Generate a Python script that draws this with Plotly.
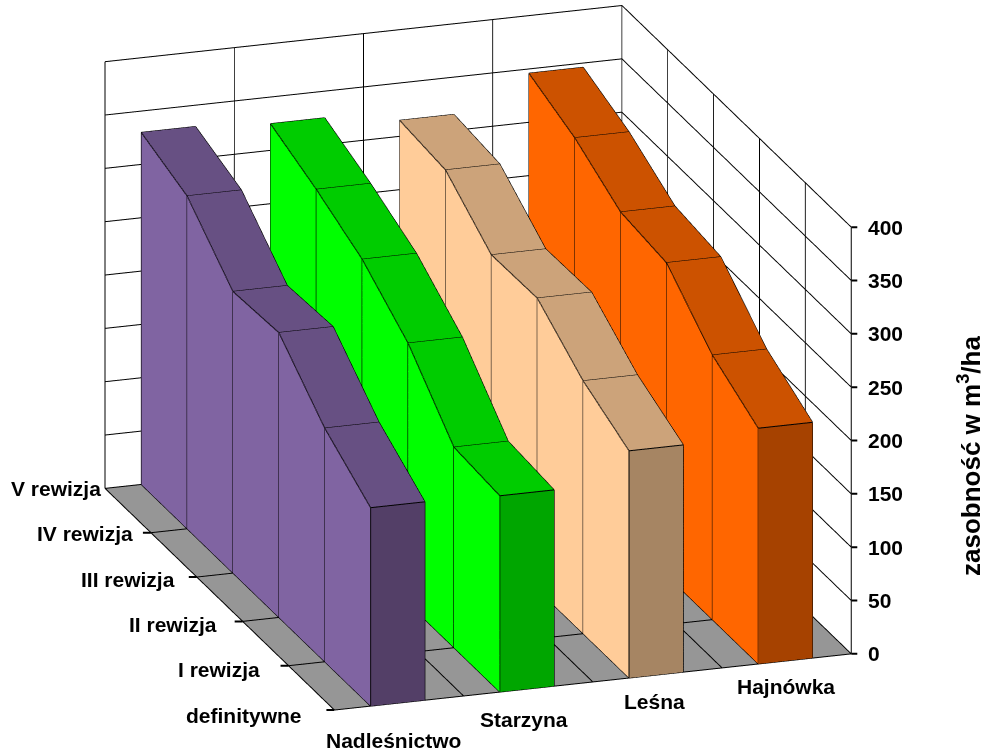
import numpy as np
import plotly.graph_objects as go

categories = ["Nadleśnictwo", "Starzyna", "Leśna", "Hajnówka"]
rows = ["definitywne", "I rewizja", "II rewizja", "III rewizja", "IV rewizja", "V rewizja"]
nadlesnictwo = [186, 219, 267, 264, 312, 330]
starzyna = [184, 188, 244, 281, 305, 325]
lesna = [213, 237, 273, 272, 310, 315]
hajnowka = [221, 248, 293, 299, 327, 346]
z_ticks = [0, 50, 100, 150, 200, 250, 300, 350, 400]
x_ticks = [0, 1, 2, 3, 4]
y_ticks = [0, 1, 2, 3, 4, 5]
series = [nadlesnictwo, starzyna, lesna, hajnowka]
side_colors = ["#8064A2", "#00FF00", "#FFCC99", "#FF6600"]
top_colors = ["#675083", "#00CC00", "#CCA37A", "#CC5200"]
front_colors = ["#533F67", "#00A600", "#A68563", "#A64200"]

X0, X1 = 0.28, 0.70
fig = go.Figure()


def lines_trace(segments, width):
    lx, ly, lz = [], [], []
    for p, q in segments:
        lx += [p[0], q[0], None]
        ly += [p[1], q[1], None]
        lz += [p[2], q[2], None]
    return go.Scatter3d(x=lx, y=ly, z=lz, mode="lines", line=dict(color="#000000", width=width),
                        hoverinfo="skip", showlegend=False)


for i, vals in enumerate(series):
    x0, x1 = i + X0, i + X1
    vx, vy, vz, I, J, K, fc = [], [], [], [], [], [], []
    for j, v in enumerate(vals):
        vx += [x0, x0, x1, x1]
        vy += [j, j, j, j]
        vz += [0, v, 0, v]

    def quad(a, b, c, d, col):
        I.extend([a, a]); J.extend([b, c]); K.extend([c, d]); fc.extend([col, col])

    for j in range(5):
        n = 4 * j
        m = n + 4
        quad(n, m, m + 1, n + 1, side_colors[i])
        quad(n + 1, m + 1, m + 3, n + 3, top_colors[i])
    quad(0, 1, 3, 2, front_colors[i])
    fig.add_trace(go.Mesh3d(x=vx, y=vy, z=vz, i=I, j=J, k=K, facecolor=fc, flatshading=True,
                            lighting=dict(ambient=1, diffuse=0, specular=0, fresnel=0),
                            hoverinfo="skip", showscale=False))
    segs = []
    for j, v in enumerate(vals):
        segs.append(((x0, j, 0), (x0, j, v)))
        segs.append(((x0, j, v), (x1, j, v)))
        if j < 5:
            segs.append(((x0, j, v), (x0, j + 1, vals[j + 1])))
            segs.append(((x1, j, v), (x1, j + 1, vals[j + 1])))
            segs.append(((x0, j, 0), (x0, j + 1, 0)))
    segs.append(((x1, 0, 0), (x1, 0, vals[0])))
    segs.append(((x0, 0, 0), (x1, 0, 0)))
    fig.add_trace(lines_trace(segs, 2))

# grid on the walls and floor
grid = []
xmin, xmax, ymin, ymax, zmin, zmax = x_ticks[0], x_ticks[-1], y_ticks[0], y_ticks[-1], z_ticks[0], z_ticks[-1]
for t in z_ticks:
    grid.append(((xmin, ymax, t), (xmax, ymax, t)))
    grid.append(((xmax, ymin, t), (xmax, ymax, t)))
for t in x_ticks:
    grid.append(((t, ymax, zmin), (t, ymax, zmax)))
    grid.append(((t, ymin, zmin), (t, ymax, zmin)))
for t in y_ticks:
    grid.append(((xmax, t, zmin), (xmax, t, zmax)))
    grid.append(((xmin, t, zmin), (xmax, t, zmin)))
grid.append(((xmin, ymin, zmin), (xmin, ymax, zmin)))
fig.add_trace(lines_trace(grid, 2))

font = dict(family="Liberation Sans", size=21, color="#000000", weight="bold")
cat_xshift = [-6, -4, -3, -1]
cat_yshift = [-37, -31, -27, -26]
row_xshift = [-30, -27, -24, -20, -16, -2]
row_ticklen = [11, 11, 11, 11, 11, 2]
ann = []
for i, c in enumerate(categories):
    ann.append(dict(x=i + 0.5, y=0, z=0, text=c, showarrow=False, xshift=cat_xshift[i], yshift=cat_yshift[i], font=font))
for j, r in enumerate(rows):
    ann.append(dict(x=0, y=j, z=0, text=r, showarrow=False, xanchor="right", xshift=row_xshift[j], yshift=j - 5, font=font))
    ann.append(dict(x=0, y=j, z=0, text=" ", showarrow=True, arrowhead=0, arrowwidth=2, arrowcolor="#000000", ax=-row_ticklen[j], ay=0))
for t in x_ticks:
    ann.append(dict(x=t, y=0, z=0, text=" ", showarrow=True, arrowhead=0, arrowwidth=2, arrowcolor="#000000", ax=0, ay=10))
for t in z_ticks:
    ann.append(dict(x=4, y=0, z=t, text=str(t), showarrow=False, xanchor="left", xshift=15, font=font))
    ann.append(dict(x=4, y=0, z=t, text=" ", showarrow=True, arrowhead=0, arrowwidth=2, arrowcolor="#000000", ax=9, ay=0))

axis = dict(showline=False, showgrid=False, zeroline=False, showspikes=False, showticklabels=False,
            title=dict(text=""), ticks="", showbackground=True, backgroundcolor="#FFFFFF")
v = np.array([-0.3008, -0.8969, 0.3241])
c = np.array([0.02719, -0.02613, -0.04706])
eye = c + 2.09 * v
fig.update_layout(
    width=982, height=753, margin=dict(l=0, r=0, t=0, b=0), paper_bgcolor="#FFFFFF", showlegend=False,
    annotations=[dict(x=969 / 982, y=1 - 456 / 753, xref="paper", yref="paper", text="zasobność w m<sup>3</sup>/ha",
                      xanchor="center", yanchor="middle", textangle=-90, showarrow=False,
                      font=dict(family="Liberation Sans", size=26, color="#000000", weight="bold"))],
    scene=dict(
        domain=dict(x=[0, 1], y=[0, 1]),
        xaxis=dict(axis, range=[xmin, xmax], tickvals=x_ticks),
        yaxis=dict(axis, range=[ymin, ymax], tickvals=y_ticks),
        zaxis=dict(axis, range=[zmin, zmax], tickvals=z_ticks, backgroundcolor="#969696"),
        aspectmode="manual", aspectratio=dict(x=1.448, y=1.916, z=1.198),
        camera=dict(projection=dict(type="orthographic"), eye=dict(x=eye[0], y=eye[1], z=eye[2]),
                    center=dict(x=c[0], y=c[1], z=c[2]), up=dict(x=0, y=0, z=1)),
        annotations=ann,
    ),
)
fig.write_html("out.html", config=dict(displayModeBar=False), post_script="document.body.style.margin='0';")
